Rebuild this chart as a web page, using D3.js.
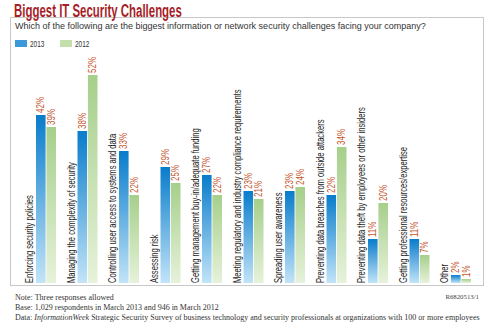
<!DOCTYPE html>
<html>
<head>
<meta charset="utf-8">
<script src="https://cdn.jsdelivr.net/npm/d3@7"></script>
<style>
  html, body { margin: 0; padding: 0; background: #fff; }
  svg { display: block; }
</style>
</head>
<body>
<div id="chart"></div>
<script>
const W= 489;
const H= 327;

const categories= [
  'Enforcing security policies',
  'Managing the complexity of security',
  'Controlling user access to systems and data',
  'Assessing risk',
  'Getting management buy-in/adequate funding',
  'Meeting regulatory and industry compliance requirements',
  'Spreading user awareness',
  'Preventing data breaches from outside attackers',
  'Preventing data theft by employees or other insiders',
  'Getting professional resources/expertise',
  'Other',
];
const series= ['2013', '2012'];
const values2013= [42, 38, 33, 29, 27, 23, 23, 22, 11, 11, 2];
const values2012= [39, 52, 22, 25, 22, 21, 24, 34, 20, 7, 1];

const footnotes= [
  'Note: Three responses allowed',
  'Base: 1,029 respondents in March 2013 and 946 in March 2012',
];
const SANS= '"Liberation Sans", Arial, sans-serif';
const SERIF= '"Liberation Serif", "DejaVu Serif", serif';

const svg= d3.select('#chart').append('svg')
  .attr('width', W).attr('height', H)
  .attr('viewBox', `0 0 ${W} ${H}`);

// squeeze a text node along its run so it reads like a condensed face
function condense(sel, targetW) {
  const w= sel.node().getComputedTextLength() || 1;
  return targetW/w;
}

// bar gradients, top to bottom
const defs= svg.append('defs');
const grads= { '2013': ['#087ccb', '#c2e4f8'], '2012': ['#a6cf8b', '#e6f2da'] };
Object.entries(grads).forEach(([k, [top, bot]]) => {
  const g= defs.append('linearGradient')
    .attr('id', `grad-${k}`)
    .attr('x1', 0).attr('y1', 0).attr('x2', 0).attr('y2', 1);
  g.append('stop').attr('offset', '0%').attr('stop-color', top);
  g.append('stop').attr('offset', '100%').attr('stop-color', bot);
});

// panel
svg.append('rect')
  .attr('x', 10.5).attr('y', 17.5)
  .attr('width', 473).attr('height', 268)
  .attr('fill', '#fff')
  .attr('stroke', '#c8c8c8').attr('stroke-width', 1);

const title= svg.append('text')
  .attr('font-family', SANS)
  .attr('font-weight', 700)
  .attr('font-size', 19)
  .attr('fill', '#a61e28')
  .text('Biggest IT Security Challenges');
title.attr('transform', `translate(14,16.5) scale(${condense(title, 168)},1)`);

svg.append('text')
  .attr('x', 15).attr('y', 29)
  .attr('font-family', SANS)
  .attr('font-size', 9)
  .attr('fill', '#333')
  .text('Which of the following are the biggest information or network security challenges facing your company?');

// label squeeze factor, from the first category's run length
const probe= svg.append('text')
  .attr('font-family', SANS).attr('font-size', 10)
  .text(categories[0]);
const SQ= condense(probe, 88);
probe.remove();

// legend
const legend= svg.append('g').attr('transform', 'translate(15,40)');
series.forEach((s, i) => {
  const g= legend.append('g').attr('transform', `translate(${i*45},0)`);
  g.append('rect').attr('width', 12).attr('height', 7)
    .attr('fill', i === 0 ? '#3a9ad9' : '#c3e0ac');
  g.append('text')
    .attr('transform', `translate(15,6.5) scale(${SQ},1)`)
    .attr('font-family', SANS)
    .attr('font-size', 8.5)
    .attr('fill', '#333')
    .text(s);
});

const x= d3.scaleBand()
  .domain(categories)
  .range([36, 36+categories.length*41.5])
  .paddingInner(0).paddingOuter(0);

const xSub= d3.scaleBand()
  .domain(series)
  .range([0, 20])
  .paddingInner(0.08);

const y= d3.scaleLinear().domain([0, 60]).range([283, 43]);

const rows= categories.map((c, i) => ({ cat: c, '2013': values2013[i], '2012': values2012[i] }));

const groups= svg.append('g').selectAll('g.grp')
  .data(rows)
  .join('g')
  .attr('class', 'grp')
  .attr('transform', d => `translate(${x(d.cat)},0)`);

groups.append('text')
  .attr('transform', `translate(-3,${y(0)}) rotate(-90) scale(${SQ},1)`)
  .attr('font-family', SANS)
  .attr('font-size', 10)
  .attr('fill', '#1e1e1e')
  .text(d => d.cat);

const bars= groups.selectAll('g.bar')
  .data(d => series.map(s => ({ s, v: d[s] })))
  .join('g')
  .attr('class', 'bar');

bars.append('rect')
  .attr('x', d => xSub(d.s))
  .attr('y', d => y(d.v))
  .attr('width', xSub.bandwidth())
  .attr('height', d => y(0)-y(d.v))
  .attr('fill', d => `url(#grad-${d.s})`);

bars.append('text')
  .attr('transform', d => `translate(${xSub(d.s)+xSub.bandwidth()/2+3.5},${y(d.v)-2}) rotate(-90) scale(${SQ*1.05},1)`)
  .attr('font-family', SANS)
  .attr('font-size', 10)
  .attr('fill', '#c4552c')
  .text(d => `${d.v}%`);

// footnotes
footnotes.forEach((t, i) => {
  svg.append('text')
    .attr('x', 15).attr('y', 300+i*10)
    .attr('font-family', SERIF)
    .attr('font-size', 8)
    .attr('fill', '#333')
    .text(t);
});

const data= svg.append('text')
  .attr('x', 15).attr('y', 320)
  .attr('font-family', SERIF)
  .attr('font-size', 8)
  .attr('fill', '#333');
data.append('tspan').text('Data: ');
data.append('tspan').attr('font-style', 'italic').text('InformationWeek');
data.append('tspan').text(' Strategic Security Survey of business technology and security professionals at organizations with 100 or more employees');

svg.append('text')
  .attr('x', 479).attr('y', 299)
  .attr('text-anchor', 'end')
  .attr('font-family', SERIF)
  .attr('font-size', 6.8)
  .attr('fill', '#444')
  .text('R6820513/1');
</script>
</body>
</html>
